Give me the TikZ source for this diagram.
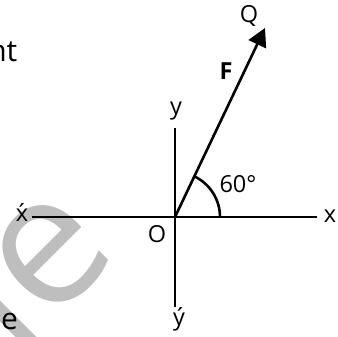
\documentclass[tikz,border=0pt]{standalone}
\usepackage{fontspec}
\setmainfont{Open Sans}
\usetikzlibrary{arrows.meta}
\definecolor{wmgray}{RGB}{190,190,190}
\begin{document}
\begin{tikzpicture}[x=1pt,y=1pt,
  axis/.style={line width=2.6pt, black},
  lbl/.style={inner sep=0pt, anchor=base, font=\fontsize{23.5}{28}\selectfont},
  bodytext/.style={inner sep=0pt, font=\fontsize{30}{36}\selectfont},
  wm/.style={inner sep=0pt, text=wmgray, font=\fontsize{184}{184}\selectfont, rotate=45, anchor=base east}]
\useasboundingbox (0,0) rectangle (338,337);
\clip (0,0) rectangle (338,337);
\node[wm] (wm) at (122,84) {le};
\coordinate (O) at (175,120);
\coordinate (xl) at (32,120);
\coordinate (xr) at (317,120);
\coordinate (yt) at (175,209);
\coordinate (yb) at (175,30);
\coordinate (Q) at (265,309);
\draw[axis] (xl) -- (xr);
\draw[axis] (yt) -- (yb);
\draw[axis, -{Triangle[length=18pt,width=19pt]}] (O) -- (Q);
\draw[axis] (O) ++(0:45) arc[start angle=0,end angle=64.5,radius=45];
\node[lbl] (lQ) at (249,314) {Q};
\node[lbl, font=\fontsize{23.5}{28}\selectfont\bfseries] (lF) at (226,257) {F};
\node[lbl] (ly) at (176,222) {y};
\node[lbl] (l60) at (238,144) {60°};
\node[lbl] (lx) at (330,114) {x};
\node[lbl] (lO) at (157,94) {O};
\node[lbl] (lyp) at (179,11) {ý};
\node[lbl] (lxp) at (22,115) {\'{x}};
\node[bodytext, anchor=base east] (nt) at (17.5,275) {nt};
\node[bodytext, anchor=base] (e) at (9.5,7) {e};
\end{tikzpicture}
\end{document}
